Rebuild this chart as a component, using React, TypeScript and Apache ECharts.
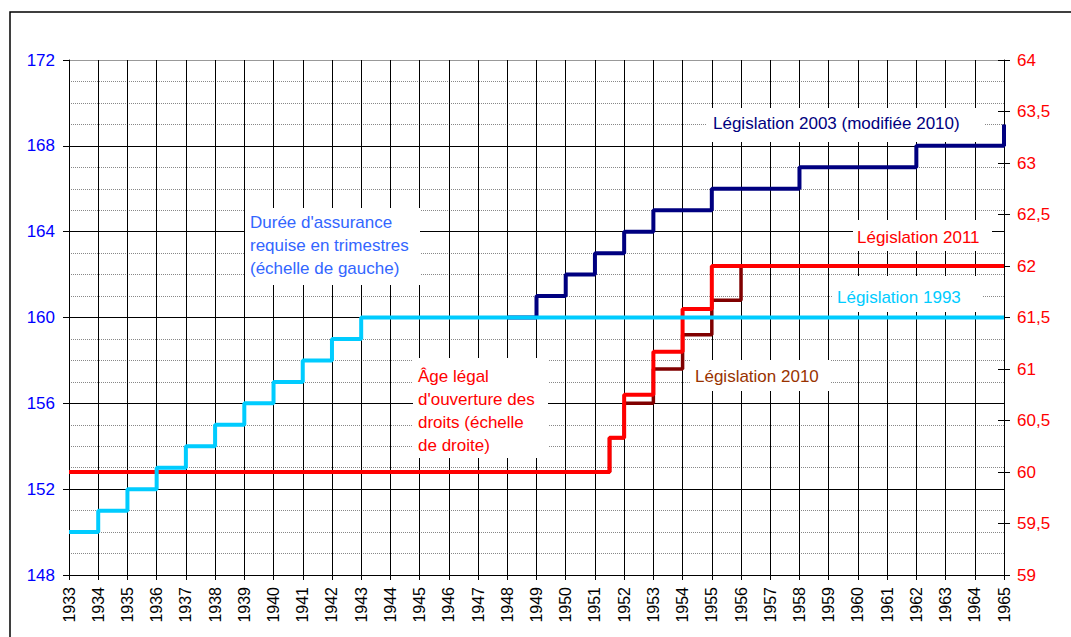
import React, { useEffect, useRef } from "react";
import * as echarts from "echarts";

// ---- Data ----
const years = [
  1933, 1934, 1935, 1936, 1937, 1938, 1939, 1940, 1941, 1942, 1943, 1944, 1945,
  1946, 1947, 1948, 1949, 1950, 1951, 1952, 1953, 1954, 1955, 1956, 1957, 1958,
  1959, 1960, 1961, 1962, 1963, 1964, 1965,
];
// Durée d'assurance (trimestres) - Législation 1993
const duree1993 = [
  150, 151, 152, 153, 154, 155, 156, 157, 158, 159, 160, 160, 160, 160, 160,
  160, 160, 160, 160, 160, 160, 160, 160, 160, 160, 160, 160, 160, 160, 160,
  160, 160, 160,
];
// Durée d'assurance - Législation 2003 (modifiée 2010)
const duree2003 = [
  null, null, null, null, null, null, null, null, null, null, null, null, null,
  null, null, 160, 161, 162, 163, 164, 165, 165, 166, 166, 166, 167, 167, 167,
  167, 168, 168, 168, 169,
];
// Âge légal d'ouverture des droits (échelle de droite)
const ageYears = [1933, 1951.5, 1952, 1953, 1954, 1955, 1956, 1965];
const age2011 = [60, 60.3333, 60.75, 61.1667, 61.5833, 62, 62, 62];
const age2010 = [60, 60.3333, 60.6667, 61, 61.3333, 61.6667, 62, 62];

const leftMin = 148;
const leftMax = 172;
const leftStep = 4;
const rightMin = 59;
const rightMax = 64;
const rightStep = 0.5;

const FONT = '"Liberation Sans", Arial, sans-serif';

export default function App() {
  const ref = useRef<HTMLDivElement>(null);

  useEffect(() => {
    document.body.style.margin = "0";
    if (!ref.current) return;
    const chart = echarts.init(ref.current, null, { renderer: "svg" });

    const pairs = (xs: number[], ys: (number | null)[]) =>
      xs.map((x, i) => [x, ys[i]]);

    const label = (
      text: string,
      color: string,
      tx: number,
      ty: number,
      rx: number,
      ry: number,
      rw: number,
      rh: number,
      multi = false
    ) => [
      {
        type: "rect",
        z: 100,
        shape: { x: rx, y: ry, width: rw, height: rh },
        style: { fill: "#fff" },
      },
      {
        type: "text",
        z: 101,
        x: tx,
        y: ty,
        style: {
          text,
          fill: color,
          font: `17px ${FONT}`,
          lineHeight: 23,
          align: "left",
          verticalAlign: multi ? "top" : "middle",
        },
      },
    ];

    chart.setOption({
      animation: false,
      backgroundColor: "#fff",
      textStyle: { fontFamily: FONT },
      grid: { left: 69, right: 67, top: 60, bottom: 62 },
      xAxis: {
        type: "value",
        min: 1933,
        max: 1965,
        interval: 1,
        axisLine: { show: true, lineStyle: { color: "#000", width: 1 } },
        axisTick: { show: true, length: 5, lineStyle: { color: "#000" } },
        axisLabel: {
          rotate: 90,
          margin: 12,
          color: "#000",
          fontSize: 16,
          fontFamily: FONT,
          formatter: (v: number) => String(v),
        },
        splitLine: { show: true, lineStyle: { color: "#000", width: 1 } },
      },
      yAxis: [
        {
          type: "value",
          position: "left",
          min: leftMin,
          max: leftMax,
          interval: leftStep,
          axisLine: { show: true, lineStyle: { color: "#000" } },
          axisTick: { show: true, length: 6, lineStyle: { color: "#000" } },
          axisLabel: { color: "#0000FF", fontSize: 17, margin: 14, fontFamily: FONT },
          splitLine: {
            show: true,
            lineStyle: {
              color: ["#000", "#000", "#000", "#000", "#000", "#000", "#999"],
              width: 1,
            },
          },
          minorTick: { show: false, splitNumber: 4 },
          minorSplitLine: {
            show: true,
            lineStyle: { color: "#888", width: 1, type: "dotted" },
          },
        },
        {
          type: "value",
          position: "right",
          min: rightMin,
          max: rightMax,
          interval: rightStep,
          axisLine: { show: true, lineStyle: { color: "#000" } },
          axisTick: { show: true, length: 6, lineStyle: { color: "#000" } },
          axisLabel: {
            color: "#FF0000",
            fontSize: 17,
            margin: 13,
            fontFamily: FONT,
            formatter: (v: number) => String(v).replace(".", ","),
          },
          splitLine: { show: false },
        },
        {
          type: "value",
          position: "right",
          min: rightMin,
          max: rightMax,
          interval: rightStep,
          axisLine: { show: false },
          axisTick: { show: true, inside: true, length: 6, lineStyle: { color: "#000" } },
          axisLabel: { show: false },
          splitLine: { show: false },
        },
      ],
      series: [
        {
          name: "Législation 2003 (modifiée 2010)",
          type: "line",
          step: "end",
          yAxisIndex: 0,
          data: pairs(years, duree2003),
          showSymbol: false,
          symbol: "none",
          lineStyle: { color: "#000080", width: 4 },
          z: 3,
        },
        {
          name: "Législation 2010",
          type: "line",
          step: "end",
          yAxisIndex: 1,
          data: pairs(ageYears, age2010),
          showSymbol: false,
          symbol: "none",
          lineStyle: { color: "#800000", width: 3.5 },
          z: 4,
        },
        {
          name: "Législation 2011",
          type: "line",
          step: "end",
          yAxisIndex: 1,
          data: pairs(ageYears, age2011),
          showSymbol: false,
          symbol: "none",
          lineStyle: { color: "#FF0000", width: 4 },
          z: 5,
        },
        {
          name: "Législation 1993",
          type: "line",
          step: "end",
          yAxisIndex: 0,
          data: pairs(years, duree1993),
          showSymbol: false,
          symbol: "none",
          lineStyle: { color: "#00CCFF", width: 4 },
          z: 6,
        },
      ],
      graphic: [
        {
          type: "rect",
          z: 100,
          shape: { x: 10, y: 12, width: 1200, height: 800 },
          style: { fill: "none", stroke: "#000", lineWidth: 1.5 },
        },
        ...label("Législation 2003 (modifiée 2010)", "#000080", 713, 123, 707, 108, 278, 34),
        ...label("Législation 2011", "#FF0000", 857, 237, 853, 220, 139, 31),
        ...label("Législation 1993", "#00CCFF", 837, 297, 833, 276, 150, 36),
        ...label("Législation 2010", "#993300", 695, 376, 690, 360, 140, 31),
        ...label(
          "Durée d'assurance\nrequise en trimestres\n(échelle de gauche)",
          "#3366FF",
          250,
          210.5,
          245,
          208,
          175,
          77,
          true
        ),
        ...label(
          "Âge légal\nd'ouverture des\ndroits (échelle\nde droite)",
          "#FF0000",
          418,
          365,
          413,
          358,
          135,
          100,
          true
        ),
      ],
    });

    return () => chart.dispose();
  }, []);

  return <div ref={ref} style={{ width: 1071, height: 637 }} />;
}
